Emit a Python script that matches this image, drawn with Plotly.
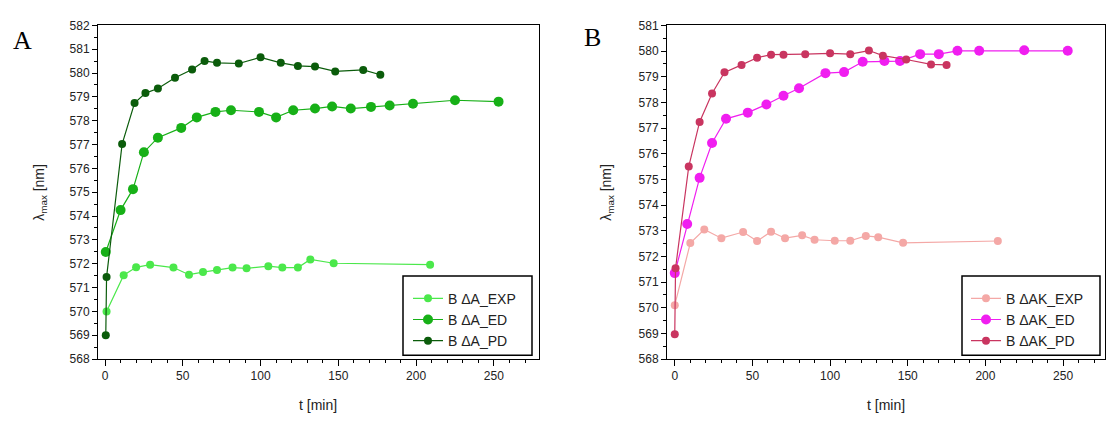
import plotly.graph_objects as go

# ---- Panel A data ----
a_exp_t = [1, 12, 20, 29, 44, 54, 63, 72, 82, 91, 105, 114, 124, 132, 147, 209]
a_exp_v = [570.0, 571.52, 571.85, 571.96, 571.84, 571.54, 571.65, 571.74, 571.84, 571.81,
           571.9, 571.84, 571.84, 572.18, 572.02, 571.96]
a_ed_t = [0.5, 10, 18, 25, 34, 49, 59, 71, 81, 99, 110, 121, 135, 146, 158, 171, 183, 198, 225, 253]
a_ed_v = [572.49, 574.25, 575.13, 576.68, 577.29, 577.7, 578.14, 578.37, 578.44, 578.37,
          578.14, 578.44, 578.51, 578.6, 578.51, 578.58, 578.64, 578.71, 578.86, 578.8]
a_pd_t = [0.5, 1, 11, 19, 26, 34, 45, 56, 64, 72, 86, 100, 113, 124, 135, 148, 166, 177]
a_pd_v = [569.0, 571.44, 577.02, 578.74, 579.16, 579.35, 579.8, 580.15, 580.51, 580.43,
          580.4, 580.66, 580.43, 580.3, 580.27, 580.07, 580.13, 579.93]

# ---- Panel B data ----
b_exp_t = [0, 10, 19, 30, 44, 53, 62, 71, 82, 90, 103, 113, 123, 131, 147, 208]
b_exp_v = [570.1, 572.52, 573.05, 572.71, 572.95, 572.6, 572.96, 572.71, 572.82, 572.65,
           572.61, 572.61, 572.8, 572.75, 572.53, 572.6]
b_ed_t = [0, 8, 16, 24, 33, 47, 59, 70, 80, 97, 109, 121, 135, 145, 158, 170, 182, 196, 225, 253]
b_ed_v = [571.35, 573.26, 575.06, 576.42, 577.36, 577.6, 577.92, 578.26, 578.55, 579.14,
          579.18, 579.58, 579.61, 579.61, 579.88, 579.88, 580.01, 580.01, 580.03, 580.01]
b_pd_t = [0, 0.5, 9, 16, 24, 32, 43, 53, 62, 70, 84, 100, 113, 125, 134, 149, 165, 175]
b_pd_v = [568.97, 571.54, 575.5, 577.24, 578.35, 579.17, 579.46, 579.74, 579.86, 579.86,
          579.88, 579.91, 579.88, 580.02, 579.82, 579.67, 579.48, 579.46]

names_a = ["B \u0394A_EXP", "B \u0394A_ED", "B \u0394A_PD"]
names_b = ["B \u0394AK_EXP", "B \u0394AK_ED", "B \u0394AK_PD"]
x_ticks = [0, 50, 100, 150, 200, 250]

W, H = 1107, 428
fig = go.Figure()

def add(t, v, name, color, size, xa, ya, leg):
    fig.add_trace(go.Scatter(
        x=t, y=v, name=name, mode="lines+markers",
        line=dict(color=color, width=1.2),
        marker=dict(color=color, size=size, symbol="circle"),
        xaxis=xa, yaxis=ya, legend=leg))

add(a_exp_t, a_exp_v, names_a[0], "#4be84b", 8, "x", "y", "legend")
add(a_ed_t, a_ed_v, names_a[1], "#17b017", 10, "x", "y", "legend")
add(a_pd_t, a_pd_v, names_a[2], "#0b5c0b", 8, "x", "y", "legend")
add(b_exp_t, b_exp_v, names_b[0], "#f4a8a6", 8, "x2", "y2", "legend2")
add(b_ed_t, b_ed_v, names_b[1], "#f01ef0", 10, "x2", "y2", "legend2")
add(b_pd_t, b_pd_v, names_b[2], "#c93560", 8, "x2", "y2", "legend2")

tickfont = dict(family="Liberation Sans, Arial, sans-serif", size=12, color="#222")
ydom = [1 - 364 / H, 1 - 19 / H]

def xaxis(dom, rng, anchor):
    return dict(domain=dom, range=rng, anchor=anchor, tickvals=x_ticks,
                ticks="outside", ticklen=6, tickcolor="#000", showline=True,
                linecolor="#000", linewidth=1, mirror=True, showgrid=False,
                zeroline=False, tickfont=tickfont,
                minor=dict(dtick=10, tick0=0, ticks="outside", ticklen=3, tickcolor="#000"))

def yaxis(rng, anchor):
    return dict(domain=ydom, range=rng, anchor=anchor, dtick=1, tick0=568,
                ticks="outside", ticklen=5, tickcolor="#000", showline=True,
                linecolor="#000", linewidth=1, mirror=True, showgrid=False,
                zeroline=False, tickfont=tickfont,
                minor=dict(dtick=0.5, tick0=568, ticks="outside", ticklen=3, tickcolor="#000"))

legfont = dict(family="Liberation Sans, Arial, sans-serif", size=14, color="#222")
fig.update_layout(
    width=W, height=H, margin=dict(l=0, r=0, t=0, b=0),
    plot_bgcolor="white", paper_bgcolor="white",
    showlegend=True,
    xaxis=xaxis([98 / W, 539 / W], [-4.5, 279], "y"),
    yaxis=yaxis([568, 582], "x"),
    xaxis2=xaxis([667 / W, 1105 / W], [-5, 277], "y2"),
    yaxis2=yaxis([568, 581], "x2"),
    legend=dict(x=408 / W, y=1 - 285 / H, xanchor="left", yanchor="top",
                borderwidth=0, bgcolor="rgba(0,0,0,0)",
                font=legfont, tracegroupgap=0, itemwidth=30),
    legend2=dict(x=966 / W, y=1 - 285 / H, xanchor="left", yanchor="top",
                 borderwidth=0, bgcolor="rgba(0,0,0,0)",
                 font=legfont, tracegroupgap=0, itemwidth=30),
)

# legend frames
for x0, x1 in [(403, 532), (962, 1100)]:
    fig.add_shape(type="rect", xref="paper", yref="paper",
                  x0=x0 / W, x1=x1 / W, y0=1 - 360 / H, y1=1 - 278 / H,
                  line=dict(color="#000", width=1.5), fillcolor="white", layer="above")

ann_font = dict(family="Liberation Sans, Arial, sans-serif", size=14, color="#222")
annotations = [
    dict(text="A", x=22 / W, y=1 - 35 / H, font=dict(family="Liberation Serif, Times New Roman, serif", size=26, color="#000")),
    dict(text="B", x=592 / W, y=1 - 32 / H, font=dict(family="Liberation Serif, Times New Roman, serif", size=26, color="#000")),
    dict(text="t [min]", x=318 / W, y=1 - 411 / H, font=ann_font),
    dict(text="t [min]", x=886 / W, y=1 - 411 / H, font=ann_font),
    dict(text="\u03bb<sub>max</sub> [nm]", x=40 / W, y=1 - 192 / H, textangle=-90, font=ann_font),
    dict(text="\u03bb<sub>max</sub> [nm]", x=607 / W, y=1 - 192 / H, textangle=-90, font=ann_font),
]
for a in annotations:
    a.update(xref="paper", yref="paper", showarrow=False, xanchor="center", yanchor="middle")
fig.update_layout(annotations=annotations)

fig.write_html("out.html")
